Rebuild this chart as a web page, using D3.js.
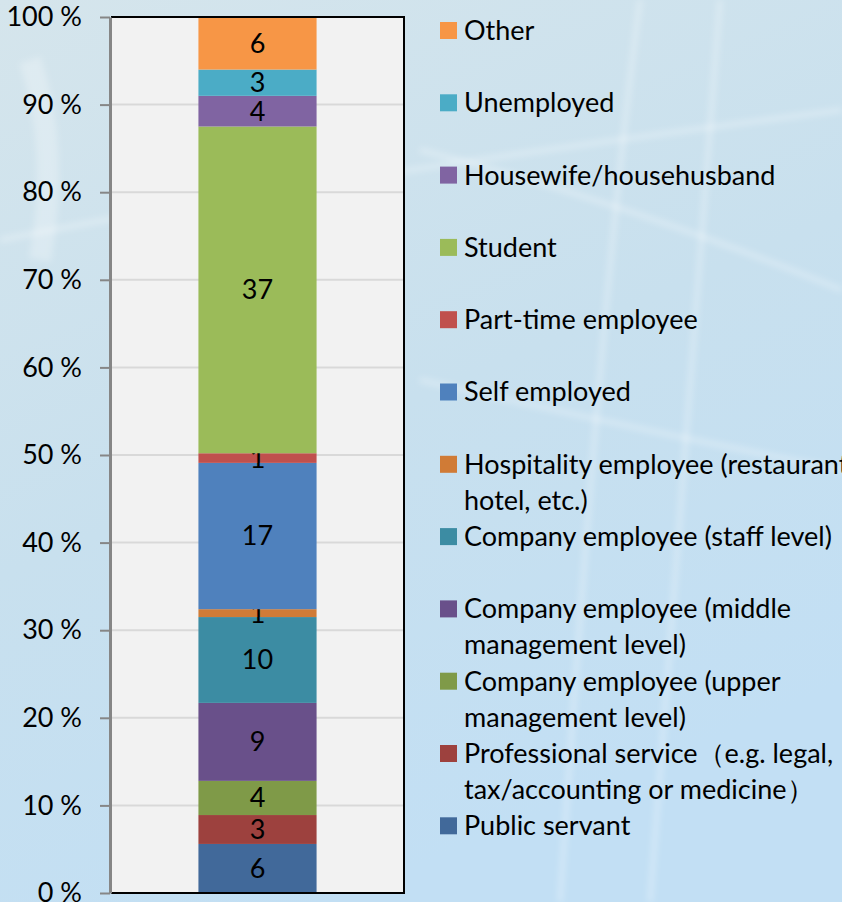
<!DOCTYPE html>
<html>
<head>
<meta charset="utf-8">
<script src="https://cdn.jsdelivr.net/npm/d3@7"></script>
<style>
  body { margin: 0; padding: 0; }
  svg { display: block; font-family: Lato, "Noto Sans", sans-serif; }
</style>
</head>
<body>
<div class="chart"></div>
<script>
// bottom to top, as stacked in the bar
var categories = [
  "Public servant",
  "Professional service（e.g. legal,\ntax/accounting or medicine）",
  "Company employee (upper\nmanagement level)",
  "Company employee (middle\nmanagement level)",
  "Company employee (staff level)",
  "Hospitality employee (restaurant,\nhotel, etc.)",
  "Self employed",
  "Part-time employee",
  "Student",
  "Housewife/househusband",
  "Unemployed",
  "Other"
];
var values = [5.6, 3.3, 3.9, 8.9, 9.8, 0.9, 16.7, 1.1, 37.3, 3.5, 3.0, 6.0];
var colors = ["#41699a", "#9d413e", "#7f9a48", "#69508a", "#3c8ca3", "#d07b36",
              "#4f81bd", "#c0504d", "#9bbb59", "#8064a2", "#4bacc6", "#f79646"];
var yTicks = [0, 10, 20, 30, 40, 50, 60, 70, 80, 90, 100];

var width = 842,
    height = 902,
    fontSize = 27;

var svg = d3.select(".chart").append("svg")
    .attr("width", width)
    .attr("height", height);

// background
var defs = svg.append("defs");
var grad = defs.append("linearGradient")
    .attr("id", "bg")
    .attr("x1", 0).attr("y1", 0).attr("x2", 0.4).attr("y2", 1);
grad.append("stop").attr("offset", "0%").attr("stop-color", "#d5e5ec");
grad.append("stop").attr("offset", "55%").attr("stop-color", "#c8e0ee");
grad.append("stop").attr("offset", "100%").attr("stop-color", "#c2dff4");
defs.append("filter").attr("id", "blur")
  .append("feGaussianBlur").attr("stdDeviation", 3);

svg.append("rect")
    .attr("width", width)
    .attr("height", height)
    .attr("fill", "url(#bg)");

var streaks = svg.append("g")
    .attr("fill", "none")
    .attr("stroke", "#ffffff")
    .attr("stroke-opacity", 0.3)
    .attr("stroke-width", 5)
    .attr("filter", "url(#blur)");
streaks.append("path").attr("d", "M640,0 Q600,300 560,902");
streaks.append("path").attr("d", "M720,0 Q690,400 650,902");
streaks.append("path").attr("d", "M420,150 Q620,200 842,290");
streaks.append("path").attr("d", "M420,380 Q640,430 842,470");
streaks.append("path").attr("d", "M0,240 Q300,180 842,110");
streaks.append("path").attr("d", "M30,60 Q60,150 40,260").attr("stroke-width", 22).attr("stroke-opacity", 0.25);

var margin = {top: 17, left: 111, right: 404, bottom: 893};

var y = d3.scaleLinear()
    .domain([0, 100])
    .range([margin.bottom, margin.top]);

var x = d3.scaleBand()
    .domain(["all"])
    .range([margin.left, margin.right])
    .paddingInner(0)
    .paddingOuter(0.74);

// plot area
svg.append("rect")
    .attr("x", margin.left)
    .attr("y", margin.top)
    .attr("width", margin.right - margin.left)
    .attr("height", margin.bottom - margin.top)
    .attr("fill", "#f2f2f2");

svg.append("g")
    .selectAll("line")
    .data(yTicks.filter(function(d) { return d > 0 && d < 100; }))
    .enter().append("line")
    .attr("x1", margin.left)
    .attr("x2", margin.right)
    .attr("y1", function(d) { return y(d); })
    .attr("y2", function(d) { return y(d); })
    .attr("stroke", "#d9d9d9")
    .attr("stroke-width", 2);

// stacked bar
var row = {};
categories.forEach(function(c, i) { row[c] = values[i]; });
var series = d3.stack().keys(categories)([row]);

var seg = svg.append("g")
    .selectAll("g")
    .data(series)
    .enter().append("g");

seg.append("rect")
    .attr("x", x("all"))
    .attr("width", x.bandwidth())
    .attr("y", function(d) { return y(d[0][1]); })
    .attr("height", function(d) { return y(d[0][0]) - y(d[0][1]); })
    .attr("fill", function(d, i) { return colors[i]; });

seg.append("text")
    .attr("x", x("all") + x.bandwidth() / 2)
    .attr("y", function(d) { return y((d[0][0] + d[0][1]) / 2); })
    .attr("dy", "0.35em")
    .attr("text-anchor", "middle")
    .attr("font-size", fontSize)
    .attr("fill", "#000")
    .text(function(d, i) { return Math.round(values[i]); });

// frame
svg.append("path")
    .attr("d", "M" + margin.left + "," + margin.top + "H" + margin.right + "V" + margin.bottom + "H" + margin.left)
    .attr("fill", "none")
    .attr("stroke", "#000")
    .attr("stroke-width", 2);

// y axis
var yAxis = svg.append("g")
    .attr("transform", "translate(" + (margin.left - 1) + ",0)")
    .call(d3.axisLeft(y)
        .tickValues(yTicks)
        .tickSize(10)
        .tickSizeOuter(0)
        .tickPadding(18)
        .tickFormat(function(d) { return d + " %"; }));

yAxis.select(".domain")
    .attr("stroke", "#868686")
    .attr("stroke-width", 3);
yAxis.selectAll(".tick line")
    .attr("stroke", "#868686")
    .attr("stroke-width", 2);
yAxis.selectAll(".tick text")
    .attr("font-family", "Lato, 'Noto Sans', sans-serif")
    .attr("font-size", fontSize)
    .attr("fill", "#000");

// legend, top to bottom
var legend = svg.append("g")
    .selectAll("g")
    .data(categories.slice().reverse())
    .enter().append("g")
    .attr("transform", function(d, i) { return "translate(440," + (30.5 + i * 72.3) + ")"; });

legend.append("rect")
    .attr("y", -8.5)
    .attr("width", 17)
    .attr("height", 17)
    .attr("fill", function(d, i) { return colors[colors.length - 1 - i]; });

legend.append("text")
    .attr("x", 24)
    .attr("font-size", fontSize)
    .attr("fill", "#000")
    .selectAll("tspan")
    .data(function(d) { return d.split("\n"); })
    .enter().append("tspan")
    .attr("x", 24)
    .attr("y", function(d, i) { return i * 36; })
    .attr("dy", "0.35em")
    .text(function(d) { return d; });
</script>
</body>
</html>
